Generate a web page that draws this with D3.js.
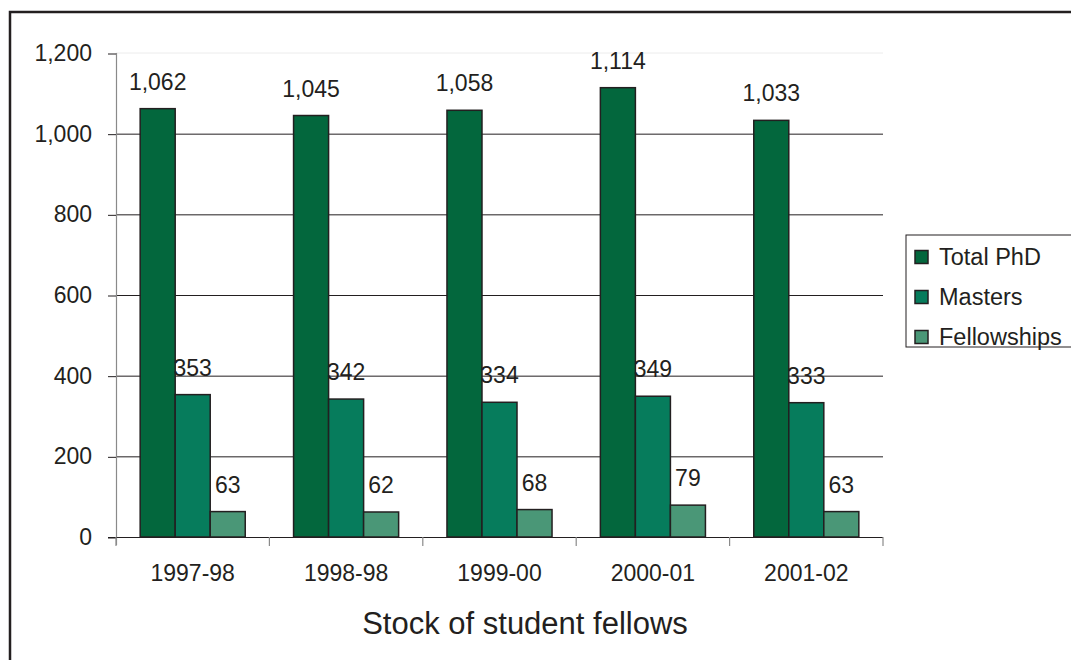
<!DOCTYPE html>
<html lang="en">
<head>
    <meta charset="UTF-8">
    <title>Stock of student fellows</title>
    <script src="https://d3js.org/d3.v7.min.js"></script>
    <style>
        body { margin: 0; background: #fff; }
        svg text {
            font-family: "Liberation Sans", Arial, sans-serif;
            fill: #231f20;
        }
        .axis path { display: none; }
        .axis text { font-size: 23px; }
        .value { font-size: 23px; text-anchor: middle; }
        .legend text { font-size: 23.5px; }
        .title { font-size: 31px; text-anchor: middle; }
    </style>
</head>
<body>
    <svg width="1071" height="660"></svg>

    <script>
        // Chart data
        const years = ["1997-98", "1998-98", "1999-00", "2000-01", "2001-02"];
        const seriesNames = ["Total PhD", "Masters", "Fellowships"];
        const totalPhD = [1062, 1045, 1058, 1114, 1033];
        const masters = [353, 342, 334, 349, 333];
        const fellowships = [63, 62, 68, 79, 63];
        const yTicks = [0, 200, 400, 600, 800, 1000, 1200];
        const colors = ["#03673d", "#067c5c", "#4a9777"];

        const rows = years.map((yr, i) => ({
            year: yr,
            values: [totalPhD[i], masters[i], fellowships[i]]
        }));

        const svg = d3.select("svg");
        const plotLeft = 116, plotRight = 883, plotTop = 53, plotBottom = 537;

        // Outer frame (only top and left edges fall inside the picture)
        svg.append("rect")
            .attr("x", 10).attr("y", 12)
            .attr("width", 1100).attr("height", 700)
            .attr("fill", "none")
            .attr("stroke", "#231f20")
            .attr("stroke-width", 2.5);

        const x0 = d3.scaleBand().domain(years).range([plotLeft, plotRight]).padding(0);
        const x1 = d3.scaleBand().domain(seriesNames)
            .range([0, x0.bandwidth()])
            .paddingInner(0).paddingOuter(0.69);
        const y = d3.scaleLinear().domain([0, 1200]).range([plotBottom, plotTop]);
        const color = d3.scaleOrdinal().domain(seriesNames).range(colors);

        // faint top edge of plot area
        svg.append("line")
            .attr("x1", plotLeft).attr("x2", plotRight)
            .attr("y1", y(1200)).attr("y2", y(1200))
            .attr("stroke", "#ececec");

        // gridlines
        svg.append("g")
            .selectAll("line")
            .data(yTicks.filter(d => d > 0 && d < 1200))
            .join("line")
            .attr("x1", plotLeft).attr("x2", plotRight)
            .attr("y1", d => y(d) + 0.5).attr("y2", d => y(d) + 0.5)
            .attr("stroke", "#231f20")
            .attr("stroke-width", 1);

        // y axis line
        svg.append("line")
            .attr("x1", plotLeft + 0.5).attr("x2", plotLeft + 0.5)
            .attr("y1", plotTop).attr("y2", plotBottom + 8)
            .attr("stroke", "#8a8a8a")
            .attr("stroke-width", 1.2);

        // y axis
        const yAxis = svg.append("g")
            .attr("class", "axis")
            .attr("transform", `translate(${plotLeft},0)`)
            .call(d3.axisLeft(y).tickValues(yTicks).tickSize(8).tickPadding(16)
                .tickFormat(d3.format(",")));
        yAxis.selectAll("line").attr("stroke", "#231f20").attr("transform", "translate(0,0.5)");

        // bars
        const groups = svg.append("g")
            .selectAll("g")
            .data(rows)
            .join("g")
            .attr("transform", d => `translate(${x0(d.year)},0)`);

        groups.selectAll("rect")
            .data(d => d.values.map((v, i) => ({ key: seriesNames[i], value: v })))
            .join("rect")
            .attr("x", d => x1(d.key))
            .attr("y", d => y(d.value))
            .attr("width", x1.bandwidth())
            .attr("height", d => plotBottom - y(d.value))
            .attr("fill", d => color(d.key))
            .attr("stroke", "#231f20")
            .attr("stroke-width", 1.5);

        groups.selectAll("text")
            .data(d => d.values.map((v, i) => ({ key: seriesNames[i], value: v })))
            .join("text")
            .attr("class", "value")
            .attr("x", d => x1(d.key) + x1.bandwidth() / 2)
            .attr("y", d => y(d.value) - 19)
            .text(d => d3.format(",")(d.value));

        // zero line
        svg.append("line")
            .attr("x1", plotLeft - 8).attr("x2", plotRight)
            .attr("y1", plotBottom + 0.5).attr("y2", plotBottom + 0.5)
            .attr("stroke", "#231f20")
            .attr("stroke-width", 1.2);

        // category boundary ticks
        svg.append("g")
            .selectAll("line")
            .data(years.map(d => x0(d)).concat([plotRight]))
            .join("line")
            .attr("x1", d => d).attr("x2", d => d)
            .attr("y1", plotBottom).attr("y2", plotBottom + 9)
            .attr("stroke", "#8a8a8a")
            .attr("stroke-width", 1.2);

        // x axis labels
        svg.append("g")
            .attr("class", "axis")
            .attr("transform", `translate(0,${plotBottom})`)
            .call(d3.axisBottom(x0).tickSize(0).tickPadding(28))
            .selectAll("line").remove();

        // title
        svg.append("text")
            .attr("class", "title")
            .attr("x", 525)
            .attr("y", 634)
            .text("Stock of student fellows");

        // legend
        const legend = svg.append("g").attr("class", "legend");
        legend.append("rect")
            .attr("x", 906).attr("y", 235)
            .attr("width", 170).attr("height", 112)
            .attr("fill", "#fff")
            .attr("stroke", "#231f20")
            .attr("stroke-width", 1);

        const items = legend.selectAll("g.item")
            .data(seriesNames)
            .join("g")
            .attr("class", "item")
            .attr("transform", (d, i) => `translate(915,${257 + i * 40})`);

        items.append("rect")
            .attr("x", 0).attr("y", -6.5)
            .attr("width", 13).attr("height", 13)
            .attr("fill", d => color(d))
            .attr("stroke", "#231f20")
            .attr("stroke-width", 1.5);

        items.append("text")
            .attr("x", 24)
            .attr("y", 8)
            .text(d => d);
    </script>
</body>
</html>
